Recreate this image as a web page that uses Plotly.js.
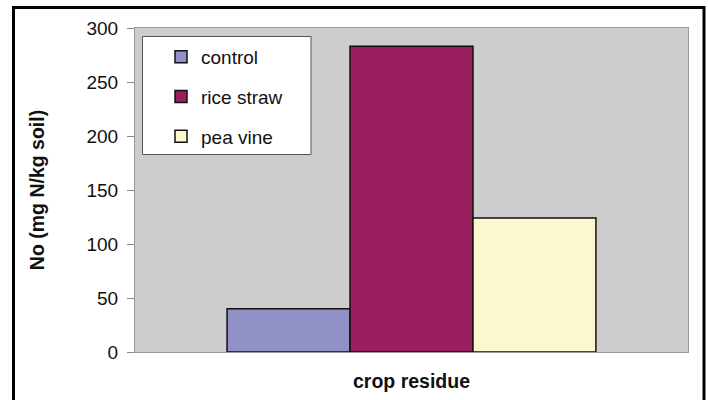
<!DOCTYPE html>
<html>
<head>
<meta charset="utf-8">
<script src="https://cdn.plot.ly/plotly-3.0.1.min.js"></script>
<style>html,body{margin:0;padding:0;background:#fff;}#chart{width:708px;height:400px;}</style>
</head>
<body>
<div id="chart"></div>
<script>
const category = ["crop residue"];
const seriesNames = ["control", "rice straw", "pea vine"];
const controlValues = [40];
const riceStrawValues = [283];
const peaVineValues = [124];
const yTickValues = [0, 50, 100, 150, 200, 250, 300];
const colors = ["#9191c8", "#991f5e", "#fbf8d0"];

const seriesValues = [controlValues, riceStrawValues, peaVineValues];
const traces = seriesNames.map((name, i) => ({
  type: "bar",
  name: name,
  x: category,
  y: seriesValues[i],
  legendgroup: "g" + i,
  marker: {color: colors[i], line: {color: "#111", width: 1.5}},
  hoverinfo: "skip"
}));

const L = 135, R = 20, T = 28, B = 48;
const W = 708, H = 400;
const pw = W - L - R, ph = H - T - B;
const px = v => (v - L) / pw;
const py = v => (H - B - v) / ph;

const layout = {
  width: W, height: H,
  margin: {l: L, r: R, t: T, b: B},
  paper_bgcolor: "#ffffff",
  plot_bgcolor: "#cdcdcd",
  font: {family: "Liberation Sans, Arial, sans-serif", color: "#111", size: 19},
  barmode: "group",
  bargap: 0.333,
  bargroupgap: 0,
  showlegend: true,
  legend: {
    x: px(161), y: py(38), xanchor: "left", yanchor: "top",
    bgcolor: "rgba(0,0,0,0)", borderwidth: 0,
    font: {size: 19, color: "#111"},
    tracegroupgap: 12,
    traceorder: "grouped"
  },
  xaxis: {
    showticklabels: false, ticks: "", showgrid: false, zeroline: false,
    showline: true, linecolor: "#999", linewidth: 1, mirror: true,
    range: [-0.5, 0.5], fixedrange: true,
    title: {text: "<b>crop residue</b>", font: {size: 19.5, color: "#111"}, standoff: 22}
  },
  yaxis: {
    range: [0, 300], tickvals: yTickValues, ticks: "outside", ticklen: 7,
    tickcolor: "#888", showgrid: false, zeroline: false,
    showline: true, linecolor: "#999", linewidth: 1, mirror: true,
    tickfont: {size: 19, color: "#111"},
    ticklabelstandoff: 5,
    title: {text: "<b>No (mg N/kg soil)</b>", font: {size: 19.5, color: "#111"}, standoff: 36}
  },
  shapes: [
    {type: "rect", xref: "paper", yref: "paper", layer: "below",
     x0: px(142.5), x1: px(311), y0: py(154.5), y1: py(36.5),
     fillcolor: "#ffffff", line: {color: "#555", width: 1}},
    {type: "rect", xref: "paper", yref: "paper", layer: "above",
     x0: px(13.5), x1: px(704), y0: py(420), y1: py(7.5),
     fillcolor: "rgba(0,0,0,0)", line: {color: "#000", width: 3}}
  ]
};

Plotly.newPlot("chart", traces, layout, {displayModeBar: false, staticPlot: true});
</script>
</body>
</html>
